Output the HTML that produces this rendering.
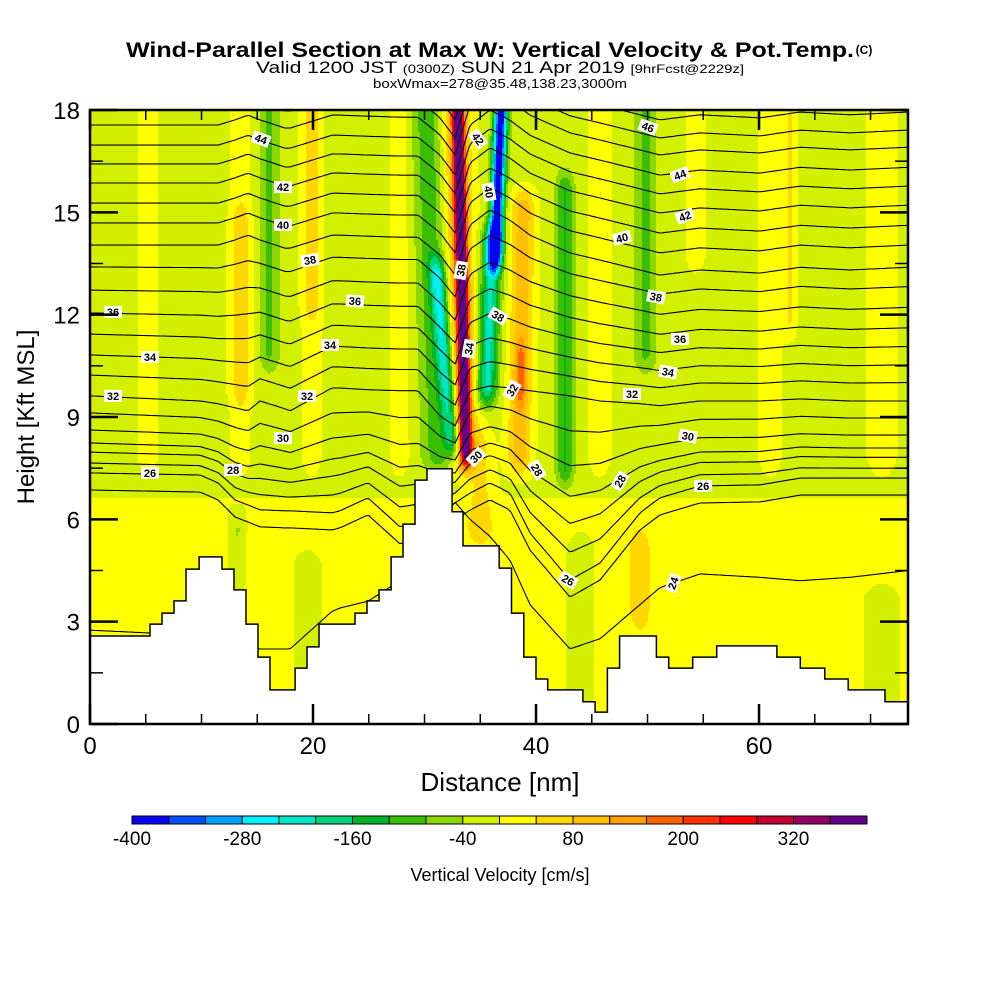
<!DOCTYPE html>
<html><head><meta charset="utf-8">
<style>
html,body{margin:0;padding:0;background:#fff;}
svg{display:block;font-family:"Liberation Sans",Arial,sans-serif;}
</style></head>
<body>
<svg id="chart" width="1000" height="1000" viewBox="0 0 1000 1000">
  <defs><clipPath id="plotclip"><rect x="90" y="110" width="818" height="614"/></clipPath></defs>
  <g>
    <text x="490" y="57" text-anchor="middle" font-size="21" font-weight="bold" textLength="728" lengthAdjust="spacingAndGlyphs">Wind-Parallel Section at Max W: Vertical Velocity &amp; Pot.Temp.</text>
    <text x="864" y="54" text-anchor="middle" font-size="12" font-weight="bold">(C)</text>
    <text x="500" y="73" text-anchor="middle" font-size="17" textLength="488" lengthAdjust="spacingAndGlyphs">Valid 1200 JST <tspan font-size="12">(0300Z)</tspan> SUN 21 Apr 2019 <tspan font-size="12">[9hrFcst@2229z]</tspan></text>
    <text x="500" y="88" text-anchor="middle" font-size="13" textLength="254" lengthAdjust="spacingAndGlyphs">boxWmax=278@35.48,138.23,3000m</text>
  </g>
  <g id="field" clip-path="url(#plotclip)"></g>
  <g id="contours" clip-path="url(#plotclip)"></g>
  <g id="terrain" clip-path="url(#plotclip)"></g>
  <g id="clabels" clip-path="url(#plotclip)"></g>
  <g id="axes"></g>
  <text x="500" y="791" text-anchor="middle" font-size="26">Distance [nm]</text>
  <text transform="translate(34,417) rotate(-90)" text-anchor="middle" font-size="24">Height [Kft MSL]</text>
  <g id="colorbar"></g>
  <text x="500" y="881" text-anchor="middle" font-size="18">Vertical Velocity [cm/s]</text>
</svg>
<script>
// ---------- data ----------
const cbColors = ["#0a00f5","#0050ff","#00a0ff","#00f0ff","#00e6c8","#00d278","#00b428","#3cbe00","#8cd700","#d2f000","#ffff00","#ffd700","#ffbe00","#ffa000","#ff6400","#ff3200","#ff0000","#c80032","#960064","#64008c"];
const cbTicks = [-400,-280,-160,-40,80,200,320];
const xTicks = [0,20,40,60];
const yTicks = [0,3,6,9,12,15,18];

// terrain steps: start distance (nm) and height (kft)
const terrainX = [0,5.38,6.46,7.53,8.61,9.78,11.84,12.91,13.99,15.07,16.14,18.39,19.46,20.54,23.77,24.84,25.92,27.0,28.07,29.15,30.22,32.47,33.45,36.7,37.8,38.9,40.0,41.05,44.2,45.3,46.4,47.5,50.8,51.9,54.05,56.2,61.6,63.7,65.9,68.0,71.3];
const terrainH = [2.58,2.93,3.25,3.61,4.54,4.90,4.54,3.93,2.93,1.96,1.0,1.64,2.26,2.93,3.25,3.61,3.93,4.90,5.86,7.15,7.48,6.22,5.22,4.57,3.25,1.96,1.32,1.0,0.65,0.35,1.64,2.58,1.96,1.64,1.96,2.29,1.96,1.64,1.32,1.0,0.65];

// vertical-velocity features (cm/s): centre at 10 kft (nm), tilt (nm/kft), half-width (nm), amplitude, bottom/top (kft)
const wX    = [5.2,13.5,13.5,16.1,13.2,19.9,19.9,27.8,32.0,31.0,33.55,33.4,35.9,35.6,38.6,38.6,42.6,45.7,49.8,54.3,62.8,61.0,71.0,19.5,44.0,71.0,49.3,35.0];
const wTilt = [0,0,0,0,0,0,0,0,-0.26,-0.1,-0.07,-0.07,0.12,0.11,0.05,0.05,0,0,0,0,0,0,0,0,0,0,0,0];
const wHW   = [1.0,1.0,0.9,0.9,0.8,1.0,0.8,1.0,0.7,1.4,0.5,1.3,0.6,0.9,1.1,0.5,0.8,1.2,1.0,0.8,0.6,1.2,1.5,1.5,1.5,2.0,0.8,1.2];
const wAmp  = [35,35,50,-70,-60,35,50,35,-180,-90,380,130,-400,-200,120,90,-110,35,-75,55,55,35,35,-40,-40,-40,60,55];
const wBot  = [7,7,9,10,3.5,7,11.5,7,7.5,7,7.3,7,13,9,7,9,6.6,7,10,13,11,7,7,1,0,0,2.5,5];
const wTop  = [19,19,15.6,19,6.5,19,19,19,14,19,19,19,19,15,16,11.5,16.5,19,19,19,19,19,19,5.5,6,4.5,6,9];

// potential temperature contours (K) and their height at x=0 (kft)
const thetaLevels = [24,25,26,27,28,29,30,31,32,33,34,35,36,37,38,39,40,41,42,43,44,45,46,47];
const thetaBaseH  = [2.75,6.86,7.36,7.65,7.97,8.24,8.62,9.12,9.62,10.23,10.82,11.43,12.05,12.72,13.40,14.04,14.69,15.27,15.86,16.42,16.97,17.56,18.06,18.59];
// displacement (kft) of contours along distance nodes, for low / mid / upper layers
const dispNodes = [0,9.87,11.48,13.0,14.17,15.25,17.49,17.94,21.7,22.42,24.93,27.8,29.42,31.39,32.74,34.08,35.87,37.67,39.46,43.05,45.74,49.33,51.12,54.71,60.09,63.68,68.16,73.36];
const dispUpper = [0,0,0,.15,.29,.15,-.09,-.09,.29,.29,.26,.23,.23,-.29,-.88,.59,1.03,.73,.29,-.23,-.44,-.73,-.88,-.73,-.82,-.65,-.73,-.65];
const dispMid   = [0,-.15,-.23,-.35,-.44,-.15,-.38,-.44,.23,.23,.18,.15,.15,-.59,-.88,.15,.29,.23,.15,0,-.15,-.23,-.29,-.15,-.15,-.09,-.15,-.15];
const dispLow   = [0,-.06,-.29,-.79,-.94,-1.08,-1.11,-1.11,-1.17,-1.11,-.73,-1.58,-1.47,-1.17,-.88,-.59,-.29,-.59,-1.76,-3.14,-2.64,-1.17,-.73,-.38,-.35,-.15,-.15,-.15];
// lowest (24 K) contour height profile (kft)
const theta24H  = [2.75,2.6,2.5,2.4,2.3,2.2,2.2,2.2,3.3,3.4,3.6,4.2,5.2,6.0,6.5,6.0,5.5,4.8,3.5,2.2,2.5,3.5,4.0,4.4,4.3,4.2,4.3,4.5];

// contour labels: value, distance (nm), height (kft), rotation (deg)
const lblVal = [44,42,40,38,36,34,32,30,28,26,36,34,32,42,40,38,38,34,32,30,28,46,44,42,40,38,36,34,32,30,28,26,26,24];
const lblX   = [15.34,17.31,17.31,19.73,23.77,21.52,19.46,17.31,12.83,5.38,2.06,5.38,2.06,34.8,35.78,33.27,36.6,33.99,37.85,34.62,40.09,50.04,52.91,53.36,47.71,50.76,52.91,51.84,48.61,53.63,47.53,54.98,42.87,52.29];
const lblH   = [17.15,15.74,14.63,13.6,12.4,11.11,9.62,8.38,7.45,7.36,12.08,10.76,9.62,17.15,15.6,13.3,11.96,11.0,9.79,7.83,7.45,17.5,16.1,14.89,14.25,12.52,11.29,10.32,9.67,8.44,7.12,6.98,4.22,4.13];
const lblRot = [20,0,0,-10,5,0,0,0,0,0,0,0,0,55,80,-80,30,-80,-60,-45,60,20,-20,-20,-15,10,0,10,0,10,-60,0,30,-70];

// ---------- axis functions ----------
const X0=90, X1=908, Y0=724, Y1=110, XMAX=73.36, HMAX=18;
const sx = d => X0 + d*(X1-X0)/XMAX;
const sy = h => Y0 - h*(Y0-Y1)/HMAX;
const NS = "http://www.w3.org/2000/svg";
function mk(tag, attrs, parent){ const e=document.createElementNS(NS,tag); for(const k in attrs) e.setAttribute(k,attrs[k]); parent.appendChild(e); return e; }
function colorFor(v){ let b=Math.floor((v+400)/40); if(b<0)b=0; if(b>19)b=19; return cbColors[b]; }
function interp(nodes, vals, x){ if(x<=nodes[0]) return vals[0]; for(let i=1;i<nodes.length;i++){ if(x<=nodes[i]){ const t=(x-nodes[i-1])/(nodes[i]-nodes[i-1]); return vals[i-1]+t*(vals[i]-vals[i-1]); } } return vals[vals.length-1]; }
function clamp01(v){ return v<0?0:(v>1?1:v); }

function wAt(d,h){
  let bg = h<5.5 ? 20 : (h<7.5 ? 20 - (h-5.5)/2*35 : -15);
  let v = bg;
  for(let i=0;i<wX.length;i++){
    const xc = wX[i] + wTilt[i]*(h-10);
    const dx = (d-xc)/wHW[i];
    if(Math.abs(dx)>3) continue;
    const taper = clamp01((h-wBot[i])/0.8)*clamp01((wTop[i]-h)/0.8);
    v += wAmp[i]*Math.exp(-dx*dx)*taper;
  }
  return v;
}

// ---------- field ----------
const field = document.getElementById('field');
const CW=2, CH=2;
for(let py=Y1; py<Y0; py+=CH){
  const h = (Y0-(py+CH/2))*HMAX/(Y0-Y1);
  let runStart=X0, runCol=null;
  for(let px=X0; px<=X1; px+=CW){
    let col = null;
    if(px<X1){ const d=(px+CW/2-X0)*XMAX/(X1-X0); col=colorFor(wAt(d,h)); }
    if(col!==runCol){
      if(runCol!==null){
        const r = mk('rect',{x:runStart,y:py,width:px-runStart+0.6,height:CH+0.6,fill:runCol},field);
        
        
      }
      runStart=px; runCol=col;
    }
  }
}

// ---------- contours ----------
const cg = document.getElementById('contours');
for(let k=0;k<thetaLevels.length;k++){
  const th = thetaLevels[k];
  let wl, wm, wu;
  if(th<=26){ wl=1; wm=0; wu=0; }
  else if(th<32){ const t=(th-26)/6; wl=1-t; wm=t; wu=0; }
  else if(th<39){ const t=(th-32)/7; wl=0; wm=1-t; wu=t; }
  else { wl=0; wm=0; wu=1; }
  let dstr="";
  for(let d=0; d<=XMAX+0.001; d+=0.25){
    let h;
    if(th===24){ h = interp(dispNodes,theta24H,d); }
    else {
      const disp = wl*interp(dispNodes,dispLow,d) + wm*interp(dispNodes,dispMid,d) + wu*interp(dispNodes,dispUpper,d);
      h = thetaBaseH[k] + disp;
    }
    dstr += (d===0?"M":"L") + sx(d).toFixed(1) + "," + sy(h).toFixed(1);
  }
  const p = mk('path',{d:dstr,fill:'none',stroke:'#000','stroke-width':1.1},cg);
  
  
}

// ---------- terrain ----------
const tg = document.getElementById('terrain');
let tp = "M"+sx(0)+","+sy(0);
for(let i=0;i<terrainX.length;i++){
  const xa = terrainX[i], xb = (i+1<terrainX.length)?terrainX[i+1]:XMAX;
  tp += "L"+sx(xa).toFixed(1)+","+sy(terrainH[i]).toFixed(1)+"L"+sx(xb).toFixed(1)+","+sy(terrainH[i]).toFixed(1);
}
tp += "L"+sx(XMAX)+","+sy(0)+"Z";
const terr = mk('path',{d:tp,fill:'#fff',stroke:'#000','stroke-width':1.5},tg);



// ---------- contour labels ----------
const lg = document.getElementById('clabels');
for(let i=0;i<lblVal.length;i++){
  const g = mk('g',{transform:`translate(${sx(lblX[i]).toFixed(1)},${sy(lblH[i]).toFixed(1)}) rotate(${lblRot[i]})`},lg);
  
  
  mk('rect',{x:-9,y:-6,width:18,height:12,fill:'#fff'},g);
  const t = mk('text',{x:0,y:4,'text-anchor':'middle','font-size':11,'font-weight':'bold'},g);
  t.textContent = lblVal[i];
}

// ---------- axes ----------
const ag = document.getElementById('axes');
const frame = mk('rect',{x:X0,y:Y1,width:X1-X0,height:Y0-Y1,fill:'none',stroke:'#000','stroke-width':2.5},ag);


for(let d=0; d<=XMAX; d+=5){
  const major = (d%20===0);
  const L = major?20:10;
  mk('line',{x1:sx(d),x2:sx(d),y1:Y0,y2:Y0-L,stroke:'#000','stroke-width':major?2.5:1.5},ag);
  mk('line',{x1:sx(d),x2:sx(d),y1:Y1,y2:Y1+L,stroke:'#000','stroke-width':major?2.5:1.5},ag);
}
for(const d of xTicks){
  const t = mk('text',{x:sx(d),y:754,'text-anchor':'middle','font-size':24},ag);
  
  
  t.textContent = d;
}
for(let h=0; h<=HMAX+0.01; h+=1.5){
  const major = (Math.abs(h%3)<0.01);
  const L = major?28:13;
  mk('line',{x1:X0,x2:X0+L,y1:sy(h),y2:sy(h),stroke:'#000','stroke-width':major?2.5:1.5},ag);
  mk('line',{x1:X1,x2:X1-L,y1:sy(h),y2:sy(h),stroke:'#000','stroke-width':major?2.5:1.5},ag);
}
for(const h of yTicks){
  const t = mk('text',{x:80,y:sy(h)+9,'text-anchor':'end','font-size':24},ag);
  
  
  t.textContent = h;
}

// ---------- colorbar ----------
const cb = document.getElementById('colorbar');
const CB0=132, CB1=867, CBY=816, CBH=8;
const cbx = v => CB0 + (v+400)*(CB1-CB0)/800;
for(let i=0;i<cbColors.length;i++){
  const r = mk('rect',{x:cbx(-400+i*40),y:CBY,width:cbx(-360+i*40)-cbx(-400+i*40),height:CBH,fill:cbColors[i],stroke:'#000','stroke-width':1},cb);
  
  
}
for(const v of cbTicks){
  const t = mk('text',{x:cbx(v),y:845,'text-anchor':'middle','font-size':19},cb);
  
  
  t.textContent = v;
}
</script>
</body></html>
